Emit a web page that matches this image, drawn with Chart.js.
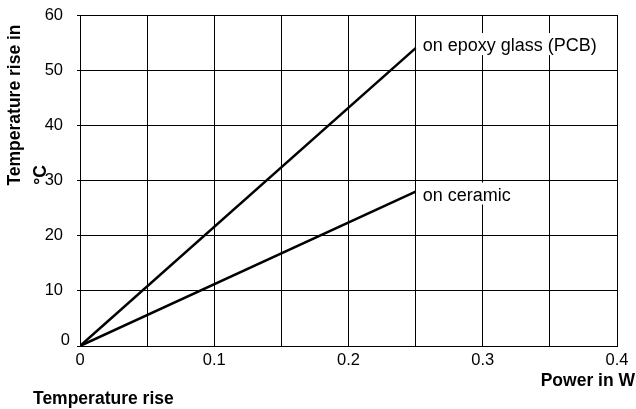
<!DOCTYPE html>
<html>
<head>
<meta charset="utf-8">
<script src="https://cdn.jsdelivr.net/npm/chart.js@4"></script>
<style>
  body { margin: 0; background: #fff; }
  #wrap { width: 636px; height: 409px; }
</style>
</head>
<body>
<div id="wrap"><canvas id="myChart" width="636" height="409"></canvas></div>
<script>
const power = [0, 0.25];
const epoxyRise = [0, 54];
const ceramicRise = [0, 28];
const seriesNames = ['on epoxy glass (PCB)', 'on ceramic'];
const xTicks = [0, 0.1, 0.2, 0.3, 0.4];
const yTicks = [0, 10, 20, 30, 40, 50, 60];

const FONT = '"Liberation Sans", Arial, sans-serif';
const TICK_FONT = '16.5px ' + FONT;
const TITLE_FONT = 'bold 17.5px ' + FONT;

const toPoints = (xs, ys) => xs.map((x, i) => ({ x: x, y: ys[i] }));

// end-of-line labels (white box behind them), axis titles, the lone "0"
const annotate = {
    id: 'annotate',
    afterDatasetsDraw(chart, args, opts) {
        const c = chart.ctx;
        const xs = chart.scales.x, ys = chart.scales.y;
        c.save();
        c.font = '18px ' + FONT;
        c.textBaseline = 'alphabetic';
        c.textAlign = 'left';
        chart.data.datasets.forEach((ds, i) => {
            const last = ds.data[ds.data.length - 1];
            const px = xs.getPixelForValue(last.x);
            const base = ys.getPixelForValue(last.y) + opts.dy[i];
            const w = c.measureText(ds.label).width;
            c.fillStyle = '#fff';
            c.fillRect(px + 1.5, base - 18, w + 10, 22);
            c.fillStyle = '#000';
            c.fillText(ds.label, px + 7, base);
        });
        c.restore();
    },
    afterDraw(chart) {
        const c = chart.ctx;
        const ys = chart.scales.y;
        c.save();
        c.fillStyle = '#000';
        c.font = TICK_FONT;
        c.textAlign = 'right';
        c.textBaseline = 'middle';
        c.fillText(String(yTicks[0]), 70, ys.getPixelForValue(yTicks[0]) - 6);

        c.font = TITLE_FONT;
        c.textAlign = 'right';
        c.fillText('Power in W', 635, 381);
        c.textAlign = 'left';
        c.fillText('Temperature rise', 33, 399);

        c.save();
        c.translate(15, 105);
        c.rotate(-Math.PI / 2);
        c.textAlign = 'center';
        c.fillText('Temperature rise in', 0, 0);
        c.restore();

        c.translate(41, 175);
        c.rotate(-Math.PI / 2);
        c.textAlign = 'center';
        c.fillText('°C', 0, 0);
        c.restore();
    }
};

const ctx = document.getElementById('myChart').getContext('2d');
const myChart = new Chart(ctx, {
    type: 'scatter',
    data: {
        datasets: [{
            label: seriesNames[0],
            data: toPoints(power, epoxyRise),
            showLine: true,
            borderColor: '#000',
            borderWidth: 2.5,
            pointRadius: 0
        }, {
            label: seriesNames[1],
            data: toPoints(power, ceramicRise),
            showLine: true,
            borderColor: '#000',
            borderWidth: 2.5,
            pointRadius: 0
        }]
    },
    options: {
        responsive: false,
        animation: false,
        layout: { padding: { top: 15, right: 19, left: 0, bottom: 0 } },
        plugins: {
            legend: { display: false },
            tooltip: { enabled: false },
            annotate: { dy: [3, 9] }
        },
        scales: {
            x: {
                type: 'linear',
                min: xTicks[0],
                max: xTicks[xTicks.length - 1],
                afterFit: s => { s.height = 63; s.paddingLeft = 0; s.paddingRight = 0; },
                border: { color: '#000', width: 1 },
                grid: { color: '#000', lineWidth: 1, drawTicks: false },
                ticks: {
                    stepSize: 0.05,
                    color: '#000',
                    padding: 5,
                    maxRotation: 0,
                    autoSkip: false,
                    font: { family: FONT, size: 16.5 },
                    callback: v => {
                        const r = Math.round(v * 100) / 100;
                        return xTicks.includes(r) ? String(r) : '';
                    }
                }
            },
            y: {
                min: yTicks[0],
                max: yTicks[yTicks.length - 1],
                afterFit: s => { s.width = 80; s.paddingTop = 0; s.paddingBottom = 0; },
                border: { color: '#000', width: 1 },
                grid: { color: '#000', lineWidth: 1, tickLength: 3 },
                ticks: {
                    stepSize: 10,
                    color: '#000',
                    padding: 14,
                    font: { family: FONT, size: 16.5 },
                    // the 0 label sits off the grid line, drawn in the plugin
                    callback: v => (v === yTicks[0] ? '' : String(v))
                }
            }
        }
    },
    plugins: [annotate, {
        id: 'frame',
        afterDraw(chart) {
            const a = chart.chartArea, c = chart.ctx;
            c.save();
            c.strokeStyle = '#000';
            c.lineWidth = 1;
            c.beginPath();
            c.moveTo(a.left, Math.round(a.top) + 0.5);
            c.lineTo(a.right, Math.round(a.top) + 0.5);
            c.stroke();
            c.restore();
        }
    }]
});
</script>
</body>
</html>
